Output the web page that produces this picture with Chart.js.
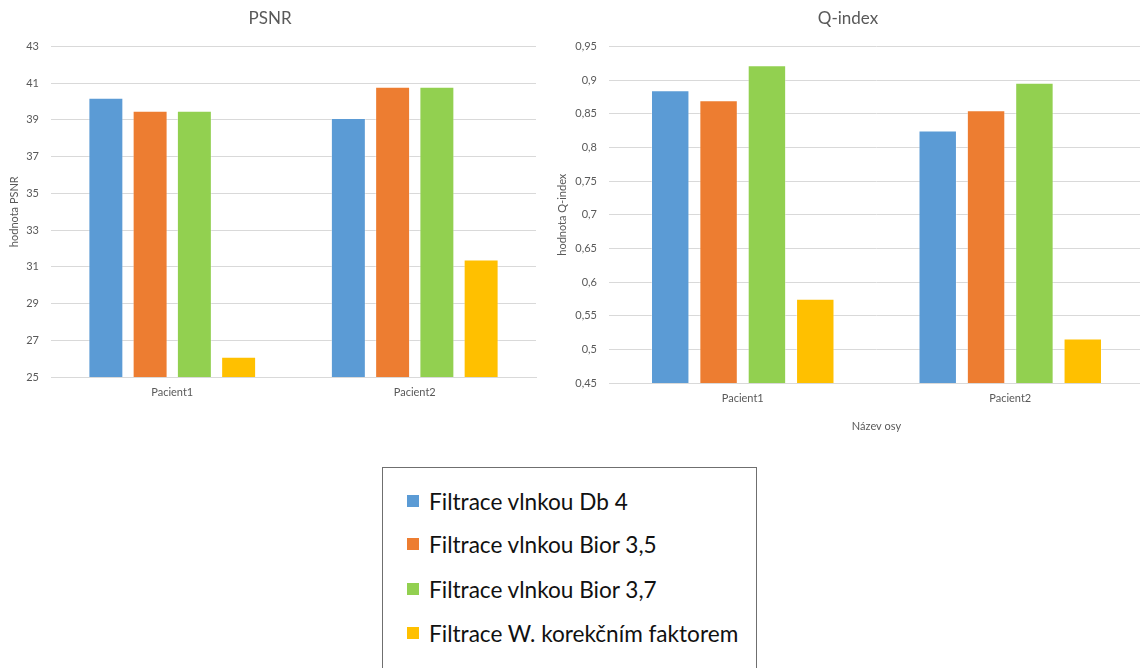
<!DOCTYPE html>
<html lang="cs">
<head>
<meta charset="utf-8">
<script src="https://cdn.jsdelivr.net/npm/chart.js@4/dist/chart.umd.min.js"></script>
<style>
  html, body { margin: 0; padding: 0; background: #fff; overflow: hidden; }
  #page { position: relative; width: 1140px; height: 668px; overflow: hidden; font-family: Lato, "Open Sans", sans-serif; }
  #psnrBox { position: absolute; left: 0; top: 0; width: 545px; height: 407px; }
  #qBox { position: absolute; left: 540px; top: 0; width: 610px; height: 440px; }
  #legend { position: absolute; left: 382px; top: 467px; width: 375px; height: 240px; border: 1px solid #6f6f6f; box-sizing: border-box; }
  .item { position: absolute; left: 24px; height: 30px; display: flex; align-items: center; font-size: 22.6px; color: #111; white-space: nowrap; }
  .swatch { width: 12px; height: 12px; margin-right: 10px; flex: none; }
</style>
</head>
<body>
<div id="page">
  <div id="psnrBox"><canvas id="psnr"></canvas></div>
  <div id="qBox"><canvas id="qidx"></canvas></div>
  <div id="legend"></div>
</div>
<script>
// Categories and series
const patients = ['Pacient1', 'Pacient2'];
const seriesNames = [
  'Filtrace vlnkou Db 4',
  'Filtrace vlnkou Bior 3,5',
  'Filtrace vlnkou Bior 3,7',
  'Filtrace W. korekčním faktorem'
];
const seriesColors = ['#5B9BD5', '#ED7D31', '#92D050', '#FFC000'];

// PSNR values per series [Pacient1, Pacient2]
const psnrDb4 = [40.2, 39.1];
const psnrBior35 = [39.5, 40.8];
const psnrBior37 = [39.5, 40.8];
const psnrWkf = [26.1, 31.4];

// Q-index values per series [Pacient1, Pacient2]
const qDb4 = [0.885, 0.825];
const qBior35 = [0.870, 0.855];
const qBior37 = [0.922, 0.896];
const qWkf = [0.575, 0.516];

// Axis tick labels
const psnrTicks = ['25', '27', '29', '31', '33', '35', '37', '39', '41', '43'];
const qTicks = ['0,45', '0,5', '0,55', '0,6', '0,65', '0,7', '0,75', '0,8', '0,85', '0,9', '0,95'];

const FONT = 'Lato, "Open Sans", sans-serif';
const GREY = '#595959';
const GRID = '#D9D9D9';

function makeDatasets(series) {
  return series.map((vals, i) => ({
    label: seriesNames[i],
    data: vals,
    backgroundColor: seriesColors[i],
    borderColor: 'rgba(255,255,255,0.35)',
    borderWidth: 1
  }));
}

function fixedWidth(w) { return scale => { scale.width = w; }; }
function fixedHeight(h) { return scale => { scale.height = h; }; }

function buildChart(id, cfg) {
  return new Chart(document.getElementById(id), {
    type: 'bar',
    data: { labels: patients, datasets: makeDatasets(cfg.series) },
    options: {
      responsive: true,
      maintainAspectRatio: false,
      animation: false,
      layout: { padding: cfg.padding },
      datasets: { bar: { categoryPercentage: cfg.catPct, barPercentage: cfg.barPct } },
      plugins: {
        legend: { display: false },
        tooltip: { enabled: false },
        title: {
          display: true,
          text: cfg.title,
          color: GREY,
          font: { family: FONT, size: 17, weight: 'normal' },
          padding: { top: 0, bottom: cfg.titleGap }
        }
      },
      scales: {
        x: {
          grid: { display: false, drawTicks: false },
          border: { display: true, color: GRID, width: 1 },
          ticks: { color: GREY, font: { family: FONT, size: 11 }, padding: 9 },
          title: cfg.xTitle ? {
            display: true, text: cfg.xTitle, color: GREY,
            font: { family: FONT, size: 11 }, padding: { top: 10, bottom: 0 }
          } : { display: false },
          afterFit: fixedHeight(cfg.xHeight)
        },
        y: {
          min: cfg.min, max: cfg.max,
          ticks: {
            stepSize: cfg.step,
            color: GREY,
            font: { family: FONT, size: 11 },
            padding: 12,
            callback: (v, i) => cfg.ticks[i]
          },
          grid: { color: GRID, lineWidth: 1, drawTicks: false },
          border: { display: false },
          title: {
            display: true, text: cfg.yTitle, color: GREY,
            font: { family: FONT, size: 11 }, padding: { top: 4, bottom: 4 }
          },
          afterFit: fixedWidth(cfg.yWidth)
        }
      }
    }
  });
}

buildChart('psnr', {
  title: 'PSNR',
  series: [psnrDb4, psnrBior35, psnrBior37, psnrWkf],
  min: 25, max: 43, step: 2, ticks: psnrTicks,
  yTitle: 'hodnota PSNR',
  xTitle: null,
  yWidth: 47,
  xHeight: 30,
  titleGap: 18,
  padding: { left: 4, right: 9, top: 8, bottom: 0 },
  catPct: 0.73, barPct: 0.79
});

buildChart('qidx', {
  title: 'Q-index',
  series: [qDb4, qBior35, qBior37, qWkf],
  min: 0.45, max: 0.95, step: 0.05, ticks: qTicks,
  yTitle: 'hodnota Q-index',
  xTitle: 'Název osy',
  yWidth: 57,
  xHeight: 50,
  titleGap: 18,
  padding: { left: 12, right: 6, top: 8, bottom: 7 },
  catPct: 0.723, barPct: 0.795
});

// Shared legend below both charts
const legend = document.getElementById('legend');
const itemTops = [18, 61, 106, 150];
seriesNames.forEach((name, i) => {
  const row = document.createElement('div');
  row.className = 'item';
  row.style.top = itemTops[i] + 'px';
  const sw = document.createElement('span');
  sw.className = 'swatch';
  sw.style.background = seriesColors[i];
  const tx = document.createElement('span');
  tx.textContent = name;
  row.appendChild(sw);
  row.appendChild(tx);
  legend.appendChild(row);
});
</script>
</body>
</html>
